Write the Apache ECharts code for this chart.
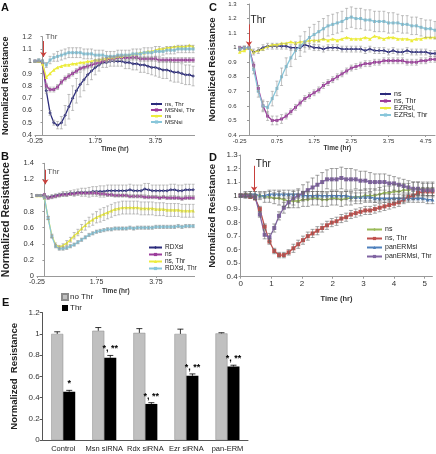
<!DOCTYPE html>
<html><head><meta charset="utf-8">
<script src="https://cdn.jsdelivr.net/npm/echarts@6/dist/echarts.min.js"></script>
<style>html,body{margin:0;padding:0;background:#fff}#c{width:436px;height:454px}</style>
</head><body><div id="c"></div>
<script>
const FF = 'Liberation Sans, Arial, sans-serif';
// ---------- time axes ----------
const T_ABC = [-0.25,-0.125,0,0.125,0.25,0.375,0.5,0.625,0.75,0.875,1,1.125,1.25,1.375,1.5,1.625,1.75,1.875,2,2.125,2.25,2.375,2.5,2.625,2.75,2.875,3,3.125,3.25,3.375,3.5,3.625,3.75,3.875,4,4.125,4.25,4.375,4.5,4.625,4.75,4.875,5];
const T_D = [0,0.125,0.25,0.375,0.5,0.625,0.75,0.875,1,1.125,1.25,1.375,1.5,1.625,1.75,1.875,2,2.125,2.25,2.375,2.5,2.625,2.75,2.875,3,3.125,3.25,3.375,3.5,3.625,3.75,3.875,4,4.125,4.25,4.375,4.5,4.625,4.75,4.875,5];
const A_xTicks = [-0.25,1.75,3.75];
const C_xTicks = [-0.25,0.75,1.75,2.75,3.75,4.75];
const D_xTicks = [0,0.8,1.6,2.4,3.2,4.0,4.8];
const D_xTickLabels = ['0','1','2','2','3','4','5'];
// ---------- Panel A ----------
const A_nsThr = [1.0,1.0,1.0,0.76,0.58,0.5,0.48,0.5,0.56,0.63, 0.7,0.76,0.81,0.85,0.89,0.92,0.95,0.97,0.99,0.99, 1.0,1.0,1.0,1.0,0.99,0.99,0.98,0.98,0.97,0.97, 0.96,0.95,0.95,0.94,0.93,0.93,0.92,0.91,0.91,0.9, 0.89,0.89,0.88];
const A_nsThrErr = [0,0,0.01,0.02,0.02,0.02,0.03,0.05,0.08,0.1, 0.1,0.1,0.1,0.09,0.08,0.07,0.06,0.05,0.04,0.04, 0.04,0.04,0.04,0.04,0.05,0.05,0.05,0.05,0.06,0.06, 0.06,0.06,0.07,0.07,0.07,0.07,0.08,0.08,0.08,0.08, 0.08,0.08,0.08];
const A_msnThr = [1.0,1.0,0.99,0.8,0.77,0.77,0.79,0.83,0.86,0.88, 0.9,0.92,0.94,0.95,0.96,0.97,0.98,0.99,1.0,1.01, 1.02,1.02,1.03,1.03,1.03,1.03,1.03,1.03,1.02,1.02, 1.02,1.02,1.02,1.01,1.01,1.01,1.01,1.01,1.01,1.01, 1.01,1.01,1.01];
const A_msnThrErr = [0.01,0.01,0.01,0.02,0.02,0.02,0.02,0.02,0.02,0.02, 0.02,0.02,0.02,0.02,0.02,0.02,0.02,0.02,0.02,0.02, 0.02,0.02,0.02,0.02,0.02,0.02,0.02,0.02,0.02,0.02, 0.02,0.02,0.02,0.02,0.02,0.02,0.02,0.02,0.02,0.02, 0.02,0.02,0.02];
const A_ns = [1.0,1.0,0.98,0.87,0.9,0.93,0.95,0.96,0.97,0.97, 0.98,0.98,0.99,0.99,1.0,1.0,1.01,1.01,1.02,1.02, 1.03,1.03,1.04,1.04,1.05,1.05,1.06,1.06,1.07,1.07, 1.08,1.08,1.09,1.1,1.1,1.11,1.11,1.12,1.12,1.12, 1.12,1.13,1.12];
const A_msn = [1.0,1.01,1.0,0.97,1.01,1.03,1.04,1.05,1.06,1.07, 1.07,1.07,1.07,1.06,1.06,1.06,1.05,1.05,1.05,1.04, 1.04,1.04,1.05,1.05,1.05,1.05,1.06,1.06,1.06,1.07, 1.07,1.07,1.08,1.08,1.08,1.09,1.09,1.09,1.1,1.1, 1.1,1.1,1.1];
const A_msnErr = [0.01,0.01,0.01,0.02,0.03,0.03,0.04,0.04,0.04,0.04, 0.04,0.04,0.04,0.04,0.04,0.04,0.04,0.04,0.04,0.04, 0.04,0.04,0.04,0.04,0.04,0.04,0.04,0.04,0.04,0.04, 0.04,0.04,0.04,0.04,0.03,0.03,0.03,0.03,0.03,0.03, 0.03,0.03,0.03];
// ---------- Panel B ----------
const B_rdx = [1.0,1.0,1.0,0.98,0.99,1.0,1.01,1.02,1.02,1.03, 1.03,1.04,1.04,1.04,1.04,1.05,1.05,1.05,1.05,1.06, 1.06,1.06,1.06,1.06,1.06,1.07,1.06,1.06,1.06,1.08, 1.07,1.06,1.06,1.06,1.06,1.06,1.07,1.07,1.06,1.06, 1.07,1.07,1.07];
const B_rdxErr = [0.01,0.01,0.01,0.01,0.02,0.02,0.02,0.03,0.03,0.03, 0.04,0.04,0.05,0.05,0.06,0.06,0.06,0.07,0.07,0.07, 0.07,0.07,0.07,0.07,0.07,0.07,0.07,0.07,0.07,0.07, 0.08,0.07,0.07,0.07,0.07,0.07,0.07,0.07,0.07,0.07, 0.07,0.07,0.07];
const B_ns = [1.0,1.0,1.01,0.97,0.98,0.99,1.0,1.01,1.01,1.02, 1.02,1.03,1.03,1.03,1.03,1.03,1.03,1.02,1.02,1.01, 1.01,1.0,1.0,1.0,1.0,0.99,0.99,0.99,0.99,0.98, 0.98,0.98,0.98,0.97,0.98,0.97,0.97,0.97,0.97,0.96, 0.97,0.97,0.97];
const B_nsErr = [0.01,0.01,0.01,0.02,0.02,0.02,0.02,0.02,0.02,0.02, 0.02,0.02,0.02,0.02,0.02,0.02,0.02,0.02,0.02,0.02, 0.02,0.02,0.02,0.02,0.02,0.02,0.02,0.02,0.02,0.02, 0.02,0.02,0.02,0.02,0.02,0.02,0.02,0.02,0.02,0.02, 0.02,0.02,0.02];
const B_nsThr = [1.0,1.0,0.97,0.72,0.5,0.39,0.36,0.38,0.41,0.45, 0.5,0.54,0.59,0.63,0.67,0.7,0.73,0.75,0.77,0.79, 0.81,0.83,0.84,0.85,0.85,0.85,0.85,0.85,0.84,0.84, 0.84,0.84,0.83,0.83,0.83,0.82,0.82,0.82,0.82,0.81, 0.81,0.81,0.81];
const B_nsThrErr = [0.01,0.01,0.01,0.02,0.02,0.02,0.02,0.02,0.03,0.03, 0.04,0.04,0.05,0.06,0.06,0.07,0.07,0.08,0.08,0.08, 0.08,0.08,0.08,0.08,0.08,0.08,0.08,0.08,0.08,0.08, 0.08,0.08,0.08,0.08,0.08,0.08,0.08,0.08,0.08,0.08, 0.08,0.08,0.08];
const B_rdxThr = [1.0,1.0,0.97,0.72,0.49,0.37,0.34,0.34,0.35,0.37, 0.39,0.42,0.45,0.48,0.51,0.53,0.55,0.56,0.57,0.58, 0.58,0.59,0.59,0.59,0.59,0.6,0.59,0.6,0.6,0.6, 0.6,0.6,0.61,0.61,0.61,0.61,0.61,0.61,0.62,0.61, 0.62,0.62,0.62];
const B_rdxThrErr = [0.01,0.01,0.01,0.02,0.02,0.02,0.02,0.02,0.02,0.02, 0.02,0.02,0.02,0.02,0.02,0.02,0.02,0.02,0.02,0.02, 0.02,0.02,0.02,0.02,0.02,0.02,0.02,0.02,0.02,0.02, 0.02,0.02,0.02,0.02,0.02,0.02,0.02,0.02,0.02,0.02, 0.02,0.02,0.02];
// ---------- Panel C ----------
const C_ns = [0.99,1.0,1.0,0.97,0.98,1.0,1.01,1.01,1.01,1.01, 1.01,1.0,1.0,1.0,1.02,1.01,1.0,1.0,0.99,1.0, 1.0,1.0,0.99,0.99,0.99,0.99,0.99,0.98,0.99,0.98, 0.98,0.98,0.97,0.98,0.97,0.97,0.98,0.97,0.97,0.97, 0.97,0.96,0.96];
const C_nsErr = [0.01,0.01,0.01,0.02,0.02,0.02,0.02,0.02,0.02,0.02, 0.02,0.02,0.02,0.02,0.02,0.02,0.02,0.02,0.02,0.02, 0.02,0.02,0.02,0.02,0.02,0.02,0.02,0.02,0.02,0.02, 0.02,0.02,0.02,0.02,0.02,0.02,0.02,0.02,0.02,0.02, 0.02,0.02,0.02];
const C_nsThr = [1.0,1.0,1.0,0.88,0.72,0.6,0.53,0.5,0.5,0.51, 0.53,0.56,0.59,0.62,0.65,0.67,0.69,0.71,0.74,0.76, 0.78,0.8,0.82,0.84,0.86,0.87,0.88,0.89,0.89,0.9, 0.9,0.91,0.91,0.91,0.91,0.91,0.9,0.9,0.9,0.91, 0.91,0.92,0.92];
const C_nsThrErr = [0.01,0.01,0.01,0.02,0.02,0.03,0.03,0.03,0.03,0.03, 0.02,0.02,0.02,0.02,0.02,0.02,0.02,0.02,0.02,0.02, 0.02,0.02,0.02,0.02,0.02,0.02,0.02,0.02,0.02,0.02, 0.02,0.02,0.02,0.02,0.02,0.02,0.02,0.02,0.02,0.02, 0.02,0.02,0.02];
const C_ezr = [0.97,0.98,1.0,0.97,0.98,0.99,1.01,1.02,1.02,1.03, 1.03,1.04,1.03,1.04,1.04,1.05,1.05,1.05,1.06,1.05, 1.06,1.05,1.06,1.07,1.06,1.06,1.06,1.07,1.06,1.08, 1.07,1.06,1.07,1.07,1.06,1.06,1.06,1.05,1.06,1.06, 1.07,1.07,1.07];
const C_ezrThr = [0.99,1.0,1.0,0.85,0.7,0.6,0.59,0.65,0.72,0.8, 0.87,0.93,0.98,1.01,1.04,1.07,1.09,1.11,1.13,1.15, 1.16,1.17,1.18,1.2,1.21,1.2,1.2,1.19,1.19,1.18, 1.18,1.18,1.17,1.17,1.17,1.16,1.16,1.15,1.15,1.14, 1.13,1.13,1.12];
const C_ezrThrErr = [0.01,0.01,0.01,0.03,0.04,0.04,0.04,0.05,0.05,0.06, 0.06,0.06,0.06,0.07,0.07,0.07,0.07,0.07,0.07,0.07, 0.07,0.07,0.07,0.07,0.07,0.07,0.07,0.07,0.07,0.07, 0.07,0.07,0.07,0.07,0.06,0.06,0.06,0.06,0.06,0.06, 0.06,0.06,0.06];
// ---------- Panel D ----------
const D_ns = [1.0,1.01,1.01,1.0,1.0,0.99,0.99,0.98,0.98,0.97, 0.96,0.96,0.96,0.97,0.97,0.98,0.98,0.97,0.97,0.98, 0.98,0.97,0.98,0.98,0.99,0.99,1.0,1.0,1.0,1.01, 1.02,1.02,1.03,1.03,1.04,1.04,1.05,1.05,1.05,1.05, 1.05];
const D_nsErr = [0.01,0.02,0.02,0.03,0.03,0.04,0.04,0.04,0.05,0.05, 0.05,0.05,0.05,0.05,0.05,0.05,0.05,0.05,0.05,0.05, 0.05,0.05,0.05,0.05,0.05,0.05,0.05,0.05,0.05,0.05, 0.05,0.05,0.05,0.05,0.05,0.05,0.05,0.05,0.05,0.05, 0.05];
const D_nsThr = [1.0,1.0,0.99,0.98,0.9,0.77,0.66,0.59,0.56,0.56, 0.58,0.61,0.64,0.67,0.7,0.72,0.74,0.76,0.78,0.8, 0.81,0.83,0.84,0.86,0.87,0.88,0.89,0.89,0.9,0.91, 0.92,0.93,0.94,0.95,0.97,0.99,1.0,1.02,1.03,1.03, 1.03];
const D_nsThrErr = [0.01,0.01,0.01,0.01,0.02,0.02,0.02,0.02,0.02,0.02, 0.02,0.03,0.03,0.03,0.03,0.03,0.03,0.03,0.03,0.03, 0.03,0.03,0.03,0.03,0.03,0.03,0.03,0.03,0.03,0.03, 0.03,0.03,0.03,0.03,0.03,0.03,0.03,0.03,0.03,0.03, 0.03];
const D_pan = [1.0,1.0,1.01,1.01,1.0,1.0,1.01,1.01,1.01,1.01, 1.01,1.01,1.01,1.0,1.0,1.0,1.0,1.0,1.0,1.0, 1.0,1.0,1.0,0.99,0.99,0.99,0.99,0.99,0.98,0.98, 0.98,0.98,0.98,0.98,0.98,0.98,0.98,0.98,0.98,0.97, 0.97];
const D_panErr = [0.01,0.02,0.02,0.02,0.02,0.02,0.03,0.03,0.03,0.03, 0.03,0.03,0.03,0.03,0.03,0.03,0.03,0.03,0.03,0.03, 0.03,0.03,0.03,0.03,0.03,0.03,0.03,0.03,0.03,0.03, 0.03,0.03,0.03,0.03,0.03,0.03,0.03,0.03,0.03,0.03, 0.03];
const D_panThr = [1.0,1.0,1.0,0.99,0.86,0.71,0.69,0.76,0.85,0.91, 0.95,0.98,1.0,1.02,1.04,1.06,1.08,1.1,1.12,1.12, 1.12,1.13,1.12,1.12,1.12,1.11,1.11,1.1,1.1,1.1, 1.1,1.09,1.09,1.08,1.07,1.06,1.05,1.05,1.04,1.04, 1.04];
const D_panThrErr = [0.01,0.01,0.01,0.02,0.02,0.03,0.03,0.03,0.03,0.04, 0.04,0.05,0.05,0.06,0.06,0.07,0.07,0.07,0.07,0.08, 0.08,0.08,0.08,0.08,0.07,0.07,0.07,0.07,0.06,0.06, 0.06,0.06,0.05,0.05,0.05,0.05,0.05,0.05,0.05,0.05, 0.05];
// ---------- Panel E ----------
const E_categories = ['Control','Msn siRNA','Rdx siRNA','Ezr siRNA','pan-ERM'];
const E_noThr = [1.0,1.03,1.01,1.0,1.005];
const E_noThrErr = [0.02,0.03,0.04,0.045,0.006];
const E_thr = [0.455,0.775,0.34,0.605,0.693];
const E_thrErr = [0.013,0.022,0.012,0.018,0.012];
const E_sig = ['*','*, **','*, **','*, **','*, **'];

// ---------- colours ----------
const NAVY='#2b2b7c', MAG='#9c3c9c', YEL='#ecec3c', CYAN='#88c6da';
const GRN='#9bbb59', RED='#c0504d', BLU='#4f81bd', PUR='#8064a2';

function mkLine(panel, name, grid, t, v, color, sym, size){
  return {type:'line', name:panel+'|'+name, xAxisIndex:grid, yAxisIndex:grid,
    data:t.map((x,i)=>[x,v[i]]), symbol:sym, symbolSize:size, showSymbol:true,
    lineStyle:{color:color,width:1.3}, itemStyle:{color:color}, emphasis:{disabled:true}, z:3, animation:false};
}
function mkErr(grid, t, v, e, color, cap){
  return {type:'custom', xAxisIndex:grid, yAxisIndex:grid, silent:true, z:4, animation:false,
    data:t.map((x,i)=>[x,v[i],e[i]]), encode:{x:0,y:1},
    renderItem:function(p,api){
      const x=api.value(0), y=api.value(1), er=api.value(2);
      const a=api.coord([x,y+er]), b=api.coord([x,y-er]);
      const s={stroke:color,lineWidth:0.6};
      return {type:'group',children:[
        {type:'line',shape:{x1:a[0],y1:a[1],x2:b[0],y2:b[1]},style:s},
        {type:'line',shape:{x1:a[0]-cap,y1:a[1],x2:a[0]+cap,y2:a[1]},style:s},
        {type:'line',shape:{x1:b[0]-cap,y1:b[1],x2:b[0]+cap,y2:b[1]},style:s}]};
    }};
}
function xAx(grid,min,max,ticks,fs,gap,nfs,fmt){
  return {type:'value',gridIndex:grid,min:min,max:max,
    axisLine:{lineStyle:{color:'#999'}},
    axisTick:{customValues:ticks,length:2,lineStyle:{color:'#999'}},
    axisLabel:{customValues:ticks,fontSize:fs,color:'#333',margin:3,fontFamily:FF,formatter:fmt},
    splitLine:{show:false},name:'Time (hr)',nameLocation:'middle',nameGap:gap,
    nameTextStyle:{fontSize:nfs,fontWeight:'bold',color:'#333',fontFamily:FF}};
}
function yAx(grid,min,max,interval,fs,gap,nfs){
  return {type:'value',gridIndex:grid,min:min,max:max,interval:interval,
    axisLine:{show:true,lineStyle:{color:'#999'}},axisTick:{show:true,length:2,lineStyle:{color:'#999'}},
    axisLabel:{fontSize:fs,color:'#333',margin:3,fontFamily:FF},splitLine:{show:false},
    name:'Normalized Resistance',nameLocation:'middle',nameGap:gap,
    nameTextStyle:{fontSize:nfs,fontWeight:'bold',color:'#222',fontFamily:FF}};
}
function thrMark(x, y1, y2, tx, ty, fs, col){
  return {
    markLine:{silent:true,symbol:['none','arrow'],symbolSize:5,animation:false,
      lineStyle:{color:'#c8403c',width:1,type:'solid'},label:{show:false},
      data:[[{coord:[x,y1]},{coord:[x,y2]}]]},
    markPoint:{silent:true,symbol:'circle',symbolSize:1,itemStyle:{color:'rgba(0,0,0,0)'},animation:false,
      label:{show:true,formatter:'Thr',position:'right',distance:0,fontSize:fs,color:col,fontFamily:FF},
      data:[{coord:[tx,ty]}]}
  };
}
function legendFor(items, left, top, fs, gap, iw){
  return {data:items, orient:'vertical', left:left, top:top, itemWidth:iw, itemHeight:4, itemGap:gap,
    padding:0, selectedMode:false, textStyle:{fontSize:fs,color:'#222',fontFamily:FF,padding:[0,0,0,-2]},
    formatter:n=>n.split('|')[1]};
}

const series = [];
// A (grid 0)
const aNT = mkLine('A','ns, Thr',0,T_ABC,A_nsThr,NAVY,'diamond',3.5);
Object.assign(aNT, thrMark(0.03,1.165,1.035,0.08,1.2,8,'#555'));
series.push(aNT,
  mkLine('A','MSNsi, Thr',0,T_ABC,A_msnThr,MAG,'rect',3),
  mkLine('A','ns',0,T_ABC,A_ns,YEL,'triangle',3.5),
  mkLine('A','MSNsi',0,T_ABC,A_msn,CYAN,'rect',3),
  mkErr(0,T_ABC,A_nsThr,A_nsThrErr,'#999',1.5),
  mkErr(0,T_ABC,A_msnThr,A_msnThrErr,'#999',1.5),
  mkErr(0,T_ABC,A_msn,A_msnErr,'#999',1.5));
// B (grid 1)
const bR = mkLine('B','RDXsi',1,T_ABC,B_rdx,NAVY,'diamond',3.5);
Object.assign(bR, thrMark(0.03,1.32,1.14,0.08,1.3,8,'#555'));
series.push(bR,
  mkLine('B','ns',1,T_ABC,B_ns,MAG,'rect',3),
  mkLine('B','ns, Thr',1,T_ABC,B_nsThr,YEL,'triangle',3.5),
  mkLine('B','RDXsi, Thr',1,T_ABC,B_rdxThr,CYAN,'rect',3),
  mkErr(1,T_ABC,B_rdx,B_rdxErr,'#999',1.5),
  mkErr(1,T_ABC,B_ns,B_nsErr,'#999',1.5),
  mkErr(1,T_ABC,B_nsThr,B_nsThrErr,'#999',1.5),
  mkErr(1,T_ABC,B_rdxThr,B_rdxThrErr,'#999',1.5));
// C (grid 2)
const cN = mkLine('C','ns',2,T_ABC,C_ns,NAVY,'diamond',3.5);
Object.assign(cN, thrMark(0.0,1.16,1.01,0.03,1.19,10,'#222'));
series.push(cN,
  mkLine('C','ns, Thr',2,T_ABC,C_nsThr,MAG,'rect',3),
  mkLine('C','EZRsi,',2,T_ABC,C_ezr,YEL,'triangle',3.5),
  mkLine('C','EZRsi, Thr',2,T_ABC,C_ezrThr,CYAN,'rect',3),
  mkErr(2,T_ABC,C_ns,C_nsErr,'#999',1.5),
  mkErr(2,T_ABC,C_nsThr,C_nsThrErr,'#999',1.5),
  mkErr(2,T_ABC,C_ezrThr,C_ezrThrErr,'#999',1.5));
// D (grid 3)
const dN = mkLine('D','ns',3,T_D,D_ns,GRN,'diamond',4);
Object.assign(dN, thrMark(0.35,1.22,1.03,0.38,1.23,10,'#222'));
series.push(dN,
  mkLine('D','ns, Thr',3,T_D,D_nsThr,RED,'rect',4),
  mkLine('D','panERMsi',3,T_D,D_pan,BLU,'triangle',4),
  mkLine('D','panERMsi, Thr',3,T_D,D_panThr,PUR,'rect',4),
  mkErr(3,T_D,D_ns,D_nsErr,'#666',2),
  mkErr(3,T_D,D_nsThr,D_nsThrErr,'#666',2),
  mkErr(3,T_D,D_pan,D_panErr,'#666',2),
  mkErr(3,T_D,D_panThr,D_panThrErr,'#666',2));
// E (grid 4)
series.push(
  {type:'bar',name:'E|no Thr',xAxisIndex:4,yAxisIndex:4,data:E_noThr,barWidth:12,barGap:'0%',
   itemStyle:{color:'#c0c0c0',borderColor:'#8a8a8a',borderWidth:0.5},animation:false},
  {type:'bar',name:'E|Thr',xAxisIndex:4,yAxisIndex:4,data:E_thr,barWidth:12,barGap:'0%',
   itemStyle:{color:'#000'},animation:false});
function barErr(vals, errs, off, withSig){
  return {type:'custom',xAxisIndex:4,yAxisIndex:4,silent:true,z:5,animation:false,
    data:vals.map((v,i)=>[i,v,errs[i]]),encode:{x:0,y:1},
    renderItem:function(p,api){
      const i=api.value(0), v=api.value(1), e=api.value(2);
      const a=api.coord([i,v]), b=api.coord([i,v+e]);
      const x=a[0]+off, s={stroke:'#000',lineWidth:0.8};
      const ch=[{type:'line',shape:{x1:x,y1:a[1],x2:x,y2:b[1]},style:s},
                {type:'line',shape:{x1:x-3,y1:b[1],x2:x+3,y2:b[1]},style:s}];
      if(withSig){ ch.push({type:'text',x:x,y:b[1]-2,style:{text:E_sig[p.dataIndex],fill:'#000',
        font:'bold 9px '+FF,textAlign:'center',verticalAlign:'bottom',textVerticalAlign:'bottom'}}); }
      return {type:'group',children:ch};
    }};
}
series.push(barErr(E_noThr,E_noThrErr,-6,false), barErr(E_thr,E_thrErr,6,true));

const fmtD = v => { const k=D_xTicks.findIndex(t=>Math.abs(t-v)<1e-6); return k>=0?D_xTickLabels[k]:''; };

const option = {
  animation:false, backgroundColor:'#fff',
  textStyle:{fontFamily:FF},
  title:[
    {text:'A',left:1,top:2,padding:0,textStyle:{fontSize:11,fontWeight:'bold',color:'#111',fontFamily:FF}},
    {text:'B',left:1,top:151,padding:0,textStyle:{fontSize:11,fontWeight:'bold',color:'#111',fontFamily:FF}},
    {text:'C',left:209,top:2,padding:0,textStyle:{fontSize:11,fontWeight:'bold',color:'#111',fontFamily:FF}},
    {text:'D',left:209,top:152,padding:0,textStyle:{fontSize:11,fontWeight:'bold',color:'#111',fontFamily:FF}},
    {text:'E',left:2,top:297,padding:0,textStyle:{fontSize:11,fontWeight:'bold',color:'#111',fontFamily:FF}}
  ],
  grid:[
    {left:34,top:36.7,width:160.6,height:98.3},
    {left:34,top:163.3,width:160.6,height:112.7},
    {left:239.7,top:4,width:195.3,height:131},
    {left:240.7,top:155,width:191.7,height:121.7},
    {left:42.7,top:312.7,width:205.3,height:127.3}
  ],
  xAxis:[
    xAx(0,-0.25,5.05,A_xTicks,7,11,6.5),
    xAx(1,-0.25,5.05,A_xTicks,7,12,6.5),
    xAx(2,-0.25,5.0,C_xTicks,6,10,6.5),
    xAx(3,0,5,D_xTicks,8,18,7.5,fmtD),
    {type:'category',gridIndex:4,data:E_categories,axisLine:{lineStyle:{color:'#555'}},
     axisTick:{length:3,lineStyle:{color:'#555'}},axisLabel:{interval:0,fontSize:7.5,color:'#222',margin:5,fontFamily:FF}}
  ],
  yAxis:[
    yAx(0,0.4,1.2,0.1,7,25,9),
    yAx(1,0,1.4,0.2,7.5,25,10.5),
    yAx(2,0.4,1.3,0.1,6,22,9.5),
    yAx(3,0.4,1.3,0.1,8,23,9.5),
    Object.assign(yAx(4,0,1.2,0.2,8,23,9.5),{name:'Normalized  Resistance',
      axisLine:{show:true,lineStyle:{color:'#555'}},axisTick:{show:true,length:3,lineStyle:{color:'#555'}}})
  ],
  legend:[
    legendFor(['A|ns, Thr','A|MSNsi, Thr','A|ns','A|MSNsi'],150,101,6,0,11),
    legendFor(['B|RDXsi','B|ns','B|ns, Thr','B|RDXsi, Thr'],148,244,6.5,0,13),
    legendFor(['C|ns','C|ns, Thr','C|EZRsi,','C|EZRsi, Thr'],379,90.5,7,0,11),
    legendFor(['D|ns','D|ns, Thr','D|panERMsi','D|panERMsi, Thr'],366,226,7,2,15),
    {data:[{name:'E|no Thr',icon:'rect'},{name:'E|Thr',icon:'rect'}],orient:'vertical',left:61,top:293,
     itemWidth:6,itemHeight:6,itemGap:3,padding:0,selectedMode:false,
     textStyle:{fontSize:8,color:'#222',fontFamily:FF,padding:[0,0,0,-3]},formatter:n=>n.split('|')[1]}
  ],
  series:series
};
const chart = echarts.init(document.getElementById('c'),null,{renderer:'canvas'});
chart.setOption(option);
</script></body></html>
